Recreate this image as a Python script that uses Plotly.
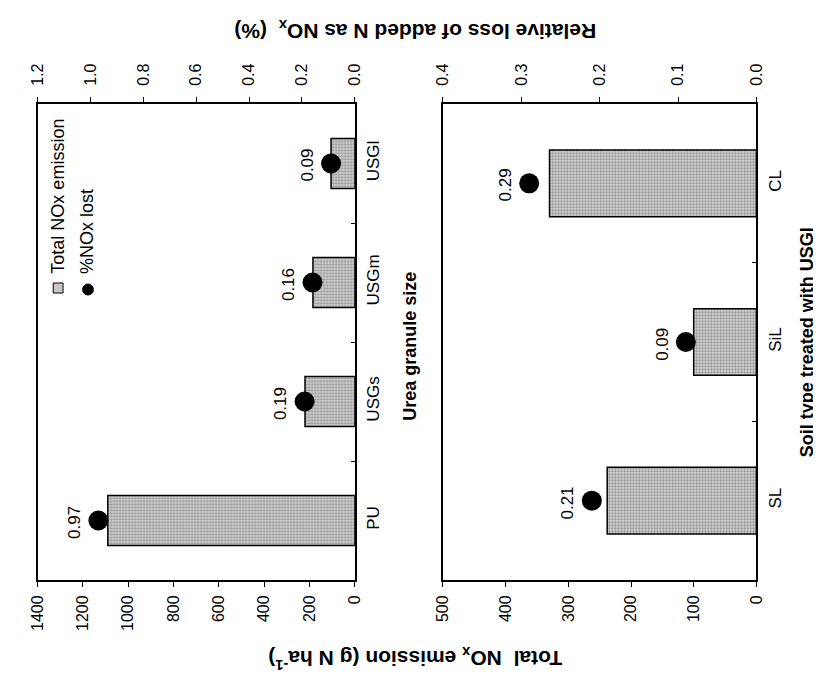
import plotly.graph_objects as go

# ---- data ----
granule_cats = ["PU", "USGs", "USGm", "USGl"]
granule_emission = [1090, 220, 185, 105]
granule_loss = [0.97, 0.19, 0.16, 0.09]

soil_cats = ["SL", "SiL", "CL"]
soil_emission = [238, 100, 330]
soil_loss = [0.21, 0.09, 0.29]

emis_ticks_left = [0, 200, 400, 600, 800, 1000, 1200, 1400]
loss_ticks_left = [0.0, 0.2, 0.4, 0.6, 0.8, 1.0, 1.2]
emis_ticks_right = [0, 100, 200, 300, 400, 500]
loss_ticks_right = [0.0, 0.1, 0.2, 0.3, 0.4]

FONT = "Liberation Sans, Arial, sans-serif"
W, H = 821, 676

def px_x(p):
    return p / W

def px_y(p):
    return 1 - p / H

ydom = [px_y(572), px_y(96)]
xdom_l = [px_x(21), px_x(345)]
xdom_r = [px_x(435), px_x(755)]

bar_style = dict(
    color="#c8c8c8",
    line=dict(color="black", width=1.5),
    pattern=dict(shape=".", fgcolor="#555555", bgcolor="#d4d4d4", size=3, solidity=0.45),
)

fig = go.Figure()

fig.add_trace(go.Bar(x=granule_emission, y=granule_cats, orientation="h",
                     xaxis="x", yaxis="y", width=0.42, marker=bar_style,
                     showlegend=False))
fig.add_trace(go.Scatter(x=granule_loss, y=granule_cats, mode="markers",
                         xaxis="x3", yaxis="y",
                         marker=dict(color="black", size=20), showlegend=False))
fig.add_trace(go.Bar(x=soil_emission, y=soil_cats, orientation="h",
                     xaxis="x2", yaxis="y2", width=0.42, marker=bar_style,
                     showlegend=False))
fig.add_trace(go.Scatter(x=soil_loss, y=soil_cats, mode="markers",
                         xaxis="x4", yaxis="y2",
                         marker=dict(color="black", size=20), showlegend=False))

tickfont = dict(family=FONT, size=16, color="black")

def xax(rng, tv, side, standoff, dom=None, anchor=None, overlay=None):
    d = dict(range=rng, autorange=False, tickvals=tv,
             ticktext=[(f"{v:.1f}" if isinstance(v, float) else str(v)) for v in tv],
             tickangle=-90, side=side, showline=True, linecolor="black", linewidth=2,
             ticks="outside", ticklen=5, tickcolor="black", tickwidth=1,
             showgrid=False, zeroline=False, tickfont=tickfont, ticklabelstandoff=standoff)
    if dom is not None:
        d["domain"] = dom
    if anchor is not None:
        d["anchor"] = anchor
    if overlay is not None:
        d["overlaying"] = overlay
    return d

def yax(cats, dom, anchor):
    return dict(domain=dom, anchor=anchor, side="right", type="category",
                categoryorder="array", categoryarray=cats,
                range=[-0.5, len(cats) - 0.5], autorange=False,
                showline=True, linecolor="black", linewidth=2, mirror=True,
                ticks="inside", tickson="boundaries", ticklen=4, tickcolor="black",
                tickangle=-90, tickfont=dict(family=FONT, size=17, color="black"),
                showgrid=False, zeroline=False, ticklabelstandoff=2)

fig.update_layout(
    width=W, height=H, autosize=False,
    margin=dict(l=0, r=0, t=0, b=0),
    paper_bgcolor="white", plot_bgcolor="white",
    font=dict(family=FONT, color="black"),
    xaxis=xax([1400, 0], emis_ticks_left, "bottom", 2, dom=xdom_l, anchor="y"),
    xaxis3=xax([1.2, 0], loss_ticks_left, "top", 8, anchor="y", overlay="x"),
    xaxis2=xax([500, 0], emis_ticks_right, "bottom", 2, dom=xdom_r, anchor="y2"),
    xaxis4=xax([0.4, 0], loss_ticks_right, "top", 8, anchor="y2", overlay="x2"),
    yaxis=yax(granule_cats, ydom, "x"),
    yaxis2=yax(soil_cats, ydom, "x2"),
)

ann = []
# value labels next to dots
for cats, vals, xa, ya in [(granule_cats, granule_loss, "x3", "y"),
                           (soil_cats, soil_loss, "x4", "y2")]:
    for c, v in zip(cats, vals):
        ann.append(dict(x=v, y=c, xref=xa, yref=ya, text=f"{v:.2f}",
                        textangle=-90, showarrow=False, xshift=-24, yshift=-2,
                        xanchor="center", yanchor="middle",
                        font=dict(family=FONT, size=17, color="black")))

# titles
ann.append(dict(x=px_x(407), y=px_y(22), xref="paper", yref="paper",
                text="<b>Relative loss of added N as NO<sub>x</sub>  (%)</b>",
                textangle=180, showarrow=False, xanchor="center", yanchor="middle",
                font=dict(family=FONT, size=21, color="black")))
ann.append(dict(x=px_x(407), y=px_y(651), xref="paper", yref="paper",
                text="<b>Total  NO<sub>x</sub> emission (g N ha<sup>-1</sup>)</b>",
                textangle=180, showarrow=False, xanchor="center", yanchor="middle",
                font=dict(family=FONT, size=21, color="black")))
ann.append(dict(x=px_x(401), y=px_y(338), xref="paper", yref="paper",
                text="<b>Urea granule size</b>", textangle=-90, showarrow=False,
                xanchor="center", yanchor="middle",
                font=dict(family=FONT, size=18, color="black")))
ann.append(dict(x=px_x(807), y=px_y(334), xref="paper", yref="paper",
                text="<b>Soil type treated with USGl</b>", textangle=-90, showarrow=False,
                xanchor="center", yanchor="middle",
                font=dict(family=FONT, size=18, color="black")))

# legend (rotated)
ann.append(dict(x=px_x(41), y=px_y(268), xref="paper", yref="paper",
                text="Total NOx emission", textangle=-90, showarrow=False,
                xanchor="center", yanchor="bottom",
                font=dict(family=FONT, size=18, color="black")))
ann.append(dict(x=px_x(71), y=px_y(268), xref="paper", yref="paper",
                text="%NOx lost", textangle=-90, showarrow=False,
                xanchor="center", yanchor="bottom",
                font=dict(family=FONT, size=18, color="black")))
fig.update_layout(annotations=ann)

fig.update_layout(shapes=[
    dict(type="rect", xref="paper", yref="paper",
         x0=px_x(37), x1=px_x(47), y0=px_y(285), y1=px_y(275),
         line=dict(color="black", width=1), fillcolor="#c8c8c8"),
    dict(type="circle", xref="paper", yref="paper",
         x0=px_x(67), x1=px_x(78), y0=px_y(287), y1=px_y(276),
         line=dict(color="black", width=1), fillcolor="black"),
])

fig.write_html("out.html")
